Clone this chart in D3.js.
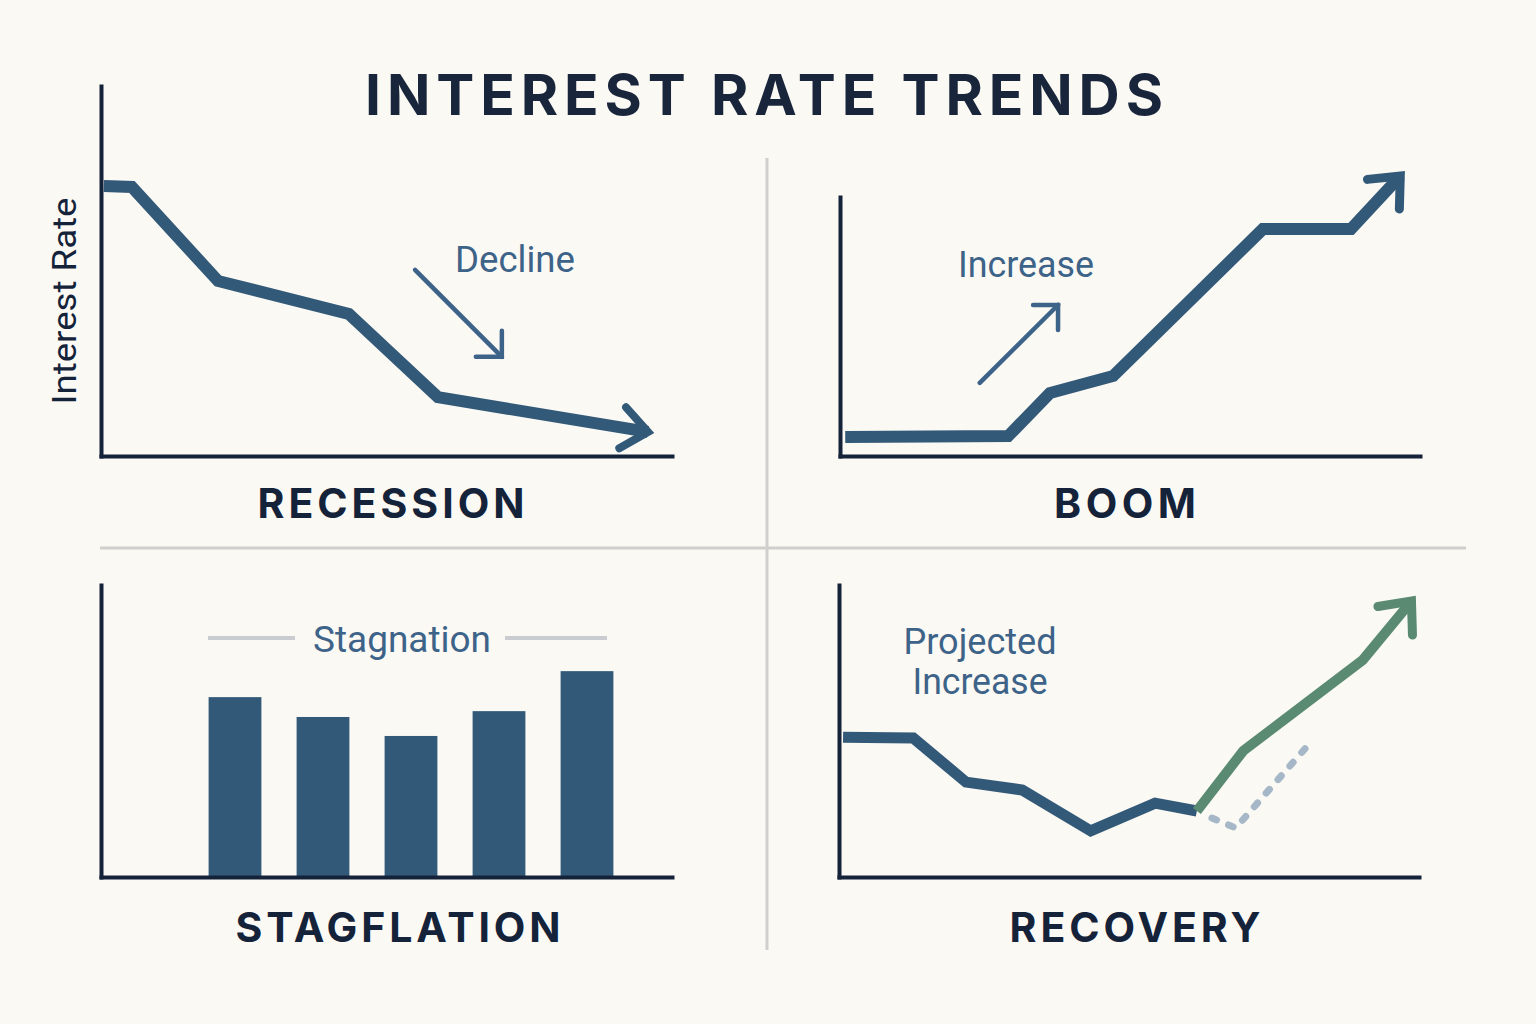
<!DOCTYPE html>
<html>
<head>
<meta charset="utf-8">
<script src="https://cdn.jsdelivr.net/npm/d3@7"></script>
<style>
  html, body { margin: 0; padding: 0; background: #fbf9f4; }
  svg { display: block; }
</style>
</head>
<body>
<div id="chart"></div>
<script>
// --- data (time index 0..10, rate 0..10 per panel) ---
const recessionT = [0.05, 0.54, 2.05, 4.34, 5.9, 9.58];
const recessionRate = [7.3, 7.27, 4.73, 3.84, 1.59, 0.65];

const boomT = [0.09, 2.9, 3.62, 4.71, 7.29, 8.81, 9.66];
const boomRate = [0.73, 0.77, 2.43, 3.09, 8.76, 8.76, 10.81];

const stagPeriods = ["P1", "P2", "P3", "P4", "P5"];
const stagRate = [6.16, 5.48, 4.83, 5.68, 7.05];

const recoveryT = [0.07, 1.28, 2.19, 3.16, 4.34, 5.45, 6.17];
const recoveryRate = [4.79, 4.76, 3.25, 2.98, 1.58, 2.53, 2.26];
const projectedT = [6.17, 6.97, 9.03, 9.87];
const projectedRate = [2.26, 4.32, 7.43, 9.45];
const altT = [6.43, 6.84, 8.09];
const altRate = [2.02, 1.68, 4.52];

// annotation arrows [start, end] in data units
const declineArrow = [[5.5, 5.03], [7.02, 2.68]];
const increaseArrow = [[2.41, 2.82], [3.76, 5.83]];

const panelTitles = ["RECESSION", "BOOM", "STAGFLATION", "RECOVERY"];

// --- setup ---
const W = 1536, H = 1024;
const AXIS = "#15233a", LINE = "#335978", LABEL = "#3d6389", GREEN = "#5a8a72";

const svg = d3.select("#chart").append("svg").attr("width", W).attr("height", H);
svg.append("rect").attr("width", W).attr("height", H).attr("fill", "#fbf9f4");

// title
svg.append("text")
  .attr("x", 365).attr("y", 115)
  .attr("textLength", 798).attr("lengthAdjust", "spacing")
  .style("font-family", "Inter, 'Open Sans', sans-serif")
  .style("font-weight", 700).style("font-size", "57px")
  .attr("fill", "#18253a")
  .text("INTEREST RATE TRENDS");

// dividers
svg.append("line").attr("x1", 767).attr("x2", 767).attr("y1", 158).attr("y2", 950)
  .attr("stroke", "#cfcfcd").attr("stroke-width", 3);
svg.append("line").attr("x1", 100).attr("x2", 1466).attr("y1", 548).attr("y2", 548)
  .attr("stroke", "#cfcfcd").attr("stroke-width", 3);

function makePanel(x0, y0, w, h) {
  const g = svg.append("g").attr("transform", `translate(${x0},${y0 - h})`);
  const x = d3.scaleLinear().domain([0, 10]).range([0, w]);
  const y = d3.scaleLinear().domain([0, 10]).range([h, 0]);
  const ax = g.append("g").attr("transform", `translate(0,${h})`)
    .call(d3.axisBottom(x).ticks(0).tickSizeOuter(0));
  const ay = g.append("g").call(d3.axisLeft(y).ticks(0).tickSizeOuter(0));
  [ax, ay].forEach(a => a.select(".domain")
    .attr("stroke", AXIS).attr("stroke-width", 4).attr("stroke-linecap", "square"));
  return { g, x, y, w, h };
}

function drawLine(p, ts, vs, color, width) {
  const pts = ts.map((t, i) => [t, vs[i]]);
  p.g.append("path").datum(pts)
    .attr("d", d3.line().x(d => p.x(d[0])).y(d => p.y(d[1])))
    .attr("fill", "none").attr("stroke", color).attr("stroke-width", width)
    .attr("stroke-linejoin", "miter").attr("stroke-linecap", "butt");
  return pts;
}

function chevron(p, from, to, color, width, len, ang) {
  const x1 = p.x(from[0]), y1 = p.y(from[1]);
  const x2 = p.x(to[0]), y2 = p.y(to[1]);
  const a = Math.atan2(y2 - y1, x2 - x1) + Math.PI;
  const arm = s => [x2 + len * Math.cos(a + s * ang), y2 + len * Math.sin(a + s * ang)];
  p.g.append("path")
    .attr("d", d3.line()([arm(1), [x2, y2], arm(-1)]))
    .attr("fill", "none").attr("stroke", color).attr("stroke-width", width)
    .attr("stroke-linecap", "round").attr("stroke-linejoin", "miter");
}

function annotArrow(p, arr, len) {
  p.g.append("line")
    .attr("x1", p.x(arr[0][0])).attr("y1", p.y(arr[0][1]))
    .attr("x2", p.x(arr[1][0])).attr("y2", p.y(arr[1][1]))
    .attr("stroke", LABEL).attr("stroke-width", 4.5).attr("stroke-linecap", "round");
  chevron(p, arr[0], arr[1], LABEL, 4.5, len, Math.PI / 4);
}

function label(x, y, txt, len, size, color) {
  return svg.append("text").attr("x", x).attr("y", y)
    .attr("text-anchor", "middle")
    .attr("textLength", len).attr("lengthAdjust", "spacingAndGlyphs")
    .style("font-family", "Roboto, 'Noto Sans', sans-serif")
    .style("font-size", size + "px")
    .attr("fill", color).text(txt);
}

function heading(x, y, txt, len) {
  return svg.append("text").attr("x", x).attr("y", y)
    .attr("text-anchor", "middle")
    .attr("textLength", len).attr("lengthAdjust", "spacing")
    .style("font-family", "Inter, 'Open Sans', sans-serif")
    .style("font-weight", 700).style("font-size", "41px")
    .attr("fill", AXIS).text(txt);
}

// --- Recession ---
const p1 = makePanel(101, 456, 571, 370);
const r = drawLine(p1, recessionT, recessionRate, LINE, 12);
chevron(p1, r[r.length - 2], r[r.length - 1], LINE, 8, 33, 0.68);
annotArrow(p1, declineArrow, 26);
label(515, 272, "Decline", 120, 37, LABEL);
svg.append("text")
  .attr("transform", "translate(76,301) rotate(-90)")
  .attr("text-anchor", "middle")
  .attr("textLength", 207).attr("lengthAdjust", "spacingAndGlyphs")
  .style("font-family", "Roboto, 'Noto Sans', sans-serif").style("font-size", "33px")
  .attr("fill", AXIS).text("Interest Rate");

// --- Boom ---
const p2 = makePanel(840, 456, 580, 259);
const b = drawLine(p2, boomT, boomRate, LINE, 12);
chevron(p2, b[b.length - 2], b[b.length - 1], LINE, 9, 33, 0.72);
annotArrow(p2, increaseArrow, 25);
label(1026, 277, "Increase", 136, 37, LABEL);

// --- Stagflation ---
const p3 = makePanel(101, 877, 571, 292);
const band = d3.scaleBand().domain(stagPeriods).range([90, 530])
  .paddingInner(0.4).paddingOuter(0.2);
p3.g.insert("g", ":first-child").selectAll("rect")
  .data(stagPeriods.map((k, i) => ({ k, v: stagRate[i] })))
  .join("rect")
  .attr("x", d => band(d.k)).attr("width", band.bandwidth())
  .attr("y", d => p3.y(d.v)).attr("height", d => p3.h - p3.y(d.v))
  .attr("fill", "#325a78");
svg.append("line").attr("x1", 208).attr("x2", 295).attr("y1", 638).attr("y2", 638)
  .attr("stroke", "#c9cdd1").attr("stroke-width", 4);
svg.append("line").attr("x1", 505).attr("x2", 607).attr("y1", 638).attr("y2", 638)
  .attr("stroke", "#c9cdd1").attr("stroke-width", 4);
label(402, 652, "Stagnation", 178, 37, LABEL);

// --- Recovery ---
const p4 = makePanel(839, 877, 580, 292);
p4.g.append("path")
  .datum(altT.map((t, i) => [t, altRate[i]]))
  .attr("d", d3.line().x(d => p4.x(d[0])).y(d => p4.y(d[1])))
  .attr("fill", "none").attr("stroke", "#a6b8c8").attr("stroke-width", 7)
  .attr("stroke-dasharray", "5 13").attr("stroke-linecap", "round");
drawLine(p4, recoveryT, recoveryRate, LINE, 11);
const g4 = drawLine(p4, projectedT, projectedRate, GREEN, 10);
chevron(p4, g4[g4.length - 2], g4[g4.length - 1], GREEN, 9, 34, 0.72);
label(980, 654, "Projected", 153, 37, LABEL);
label(980, 694, "Increase", 135, 37, LABEL);

// panel titles
heading(391, 518, panelTitles[0], 267);
heading(1125, 518, panelTitles[1], 142);
heading(398, 942, panelTitles[2], 325);
heading(1135, 942, panelTitles[3], 251);
</script>
</body>
</html>
